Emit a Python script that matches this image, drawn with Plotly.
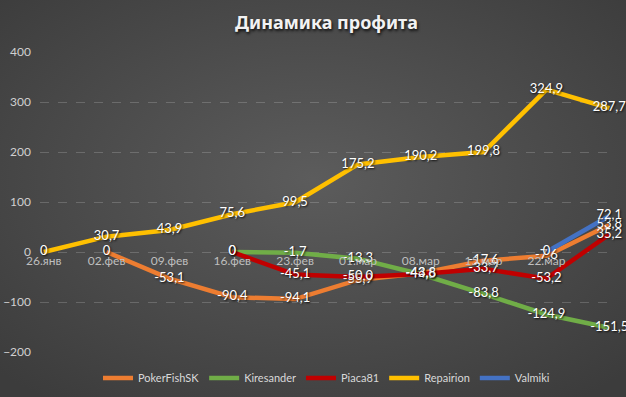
import base64
import plotly.graph_objects as go

categories = ["26.янв", "02.фев", "09.фев", "16.фев", "23.фев", "01.мар", "08.мар", "15.мар", "22.мар", "29.мар"]

poker_fish_sk = [None, 0, -53.1, -90.4, -94.1, -55.9, -42.6, -17.6, -7.6, 53.8]
kiresander = [None, None, None, 0, -1.7, -13.3, -44.5, -83.8, -124.9, -151.5]
piaca81 = [None, None, None, 0, -45.1, -50.0, -43.8, -33.7, -53.2, 35.2]
repairion = [0, 30.7, 43.9, 75.6, 99.5, 175.2, 190.2, 199.8, 324.9, 287.7]
valmiki = [None, None, None, None, None, None, None, None, 0, 72.1]

series_names = ["PokerFishSK", "Kiresander", "Piaca81", "Repairion", "Valmiki"]
series_values = [poker_fish_sk, kiresander, piaca81, repairion, valmiki]
series_colors = ["#ED7D31", "#70AD47", "#C00000", "#FFC000", "#4472C4"]

y_ticks = [-200, -100, 0, 100, 200, 300, 400]


def fmt(v):
    if v is None:
        return ""
    if v == 0:
        return "0"
    return f"{v:.1f}".replace(".", ",")


xs = list(range(len(categories)))
fig = go.Figure()
for name, vals, col in zip(series_names, series_values, series_colors):
    fig.add_trace(go.Scatter(
        x=xs, y=vals, name=name, mode="lines",
        line=dict(color=col, width=4.5),
        connectgaps=False,
    ))
# data labels drawn above all lines
for name, vals in zip(series_names, series_values):
    fig.add_trace(go.Scatter(
        x=xs, y=vals, name=name, mode="text", showlegend=False,
        text=[fmt(v) for v in vals],
        textposition="middle center",
        textfont=dict(family="Lato, Noto Sans, sans-serif", size=13, color="white",
                      shadow="1px 1px 2px rgba(0,0,0,0.85)"),
        cliponaxis=False,
    ))

W, H = 626, 397
ml, mr, mt, mb = 40, 13, 52, 45
pw, ph = W - ml - mr, H - mt - mb

svg = ('<svg xmlns="http://www.w3.org/2000/svg" width="626" height="397" preserveAspectRatio="none">'
       '<defs><radialGradient id="g" cx="50%" cy="45%" r="70%">'
       '<stop offset="0%" stop-color="#5c5c5c"/><stop offset="100%" stop-color="#3c3c3c"/>'
       '</radialGradient></defs><rect width="626" height="397" fill="url(#g)"/></svg>')
src = "data:image/svg+xml;base64," + base64.b64encode(svg.encode()).decode()

fig.update_layout(
    width=W, height=H,
    margin=dict(l=ml, r=mr, t=mt, b=mb, autoexpand=False),
    paper_bgcolor="#4a4a4a",
    plot_bgcolor="rgba(0,0,0,0)",
    images=[dict(source=src, xref="paper", yref="paper",
                 x=-ml / pw, y=1 + mt / ph, sizex=W / pw, sizey=H / ph,
                 xanchor="left", yanchor="top", sizing="stretch", layer="below")],
    title=dict(text="<b>Динамика профита</b>", x=0.5, xref="paper", xanchor="center",
               y=1 - 23 / H, yanchor="middle", automargin=False,
               font=dict(family="Noto Sans, sans-serif", size=18, color="#f2f2f2",
                         shadow="1px 2px 3px rgba(0,0,0,0.8)")),
    showlegend=True,
    legend=dict(orientation="h", x=0.5, xanchor="center", y=-(378 - (H - mb)) / ph,
                yanchor="middle", font=dict(family="Lato, Noto Sans, sans-serif", size=11, color="#d9d9d9"),
                itemwidth=30, bgcolor="rgba(0,0,0,0)"),
    font=dict(family="Lato, Noto Sans, sans-serif"),
)

fig.update_xaxes(
    range=[-0.06, 9.06], automargin=False,
    tickmode="array", tickvals=xs, ticktext=categories,
    showgrid=False, zeroline=False, showline=False,
    anchor="free", position=(0 - (-200)) / 600,
    tickfont=dict(size=12, color="#bfbfbf"),
    ticks="", ticklen=0,
)
fig.update_yaxes(
    range=[-200, 400], tickvals=y_ticks, automargin=False,
    showgrid=True, gridcolor="rgba(255,255,255,0.18)", gridwidth=1, griddash="dash",
    zeroline=False, showline=False,
    tickfont=dict(size=12, color="#d0d0d0"),
    ticklabelstandoff=8,
)

fig.write_html("out.html", config={"displayModeBar": False},
               post_script="document.body.style.margin='0';document.body.style.background='#3c3c3c';")
